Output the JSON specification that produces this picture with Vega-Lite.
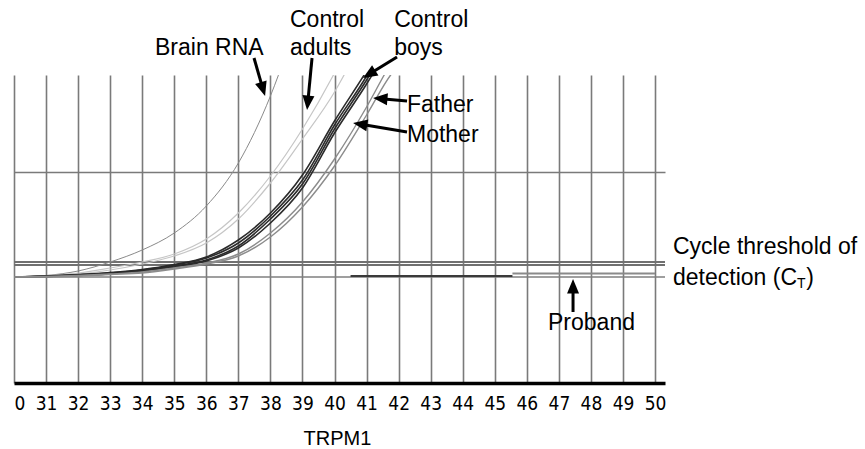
{
  "$schema": "https://vega.github.io/schema/vega-lite/v6.json",
  "autosize": {"type": "none"},
  "width": 651,
  "height": 308,
  "padding": {"left": 14, "top": 75, "right": 200, "bottom": 66},
  "background": "white",
  "config": {"view": {"stroke": null}, "font": "Liberation Sans"},
  "datasets": {
    "curves": [
      {"id": "brain", "group": "Brain RNA", "cycle": 30, "fluor": 106},
      {"id": "brain", "group": "Brain RNA", "cycle": 31, "fluor": 107.5},
      {"id": "brain", "group": "Brain RNA", "cycle": 32, "fluor": 112},
      {"id": "brain", "group": "Brain RNA", "cycle": 33, "fluor": 121},
      {"id": "brain", "group": "Brain RNA", "cycle": 34, "fluor": 133},
      {"id": "brain", "group": "Brain RNA", "cycle": 35, "fluor": 150},
      {"id": "brain", "group": "Brain RNA", "cycle": 36, "fluor": 177},
      {"id": "brain", "group": "Brain RNA", "cycle": 37, "fluor": 220},
      {"id": "brain", "group": "Brain RNA", "cycle": 38, "fluor": 287},
      {"id": "brain", "group": "Brain RNA", "cycle": 38.5, "fluor": 330},

      {"id": "adult1", "group": "Control adults", "cycle": 30, "fluor": 106},
      {"id": "adult1", "group": "Control adults", "cycle": 31, "fluor": 107.5},
      {"id": "adult1", "group": "Control adults", "cycle": 32, "fluor": 110},
      {"id": "adult1", "group": "Control adults", "cycle": 33, "fluor": 115},
      {"id": "adult1", "group": "Control adults", "cycle": 34, "fluor": 121},
      {"id": "adult1", "group": "Control adults", "cycle": 35, "fluor": 129},
      {"id": "adult1", "group": "Control adults", "cycle": 36, "fluor": 144},
      {"id": "adult1", "group": "Control adults", "cycle": 37, "fluor": 170},
      {"id": "adult1", "group": "Control adults", "cycle": 38, "fluor": 207},
      {"id": "adult1", "group": "Control adults", "cycle": 39, "fluor": 254},
      {"id": "adult1", "group": "Control adults", "cycle": 40, "fluor": 310},
      {"id": "adult1", "group": "Control adults", "cycle": 40.4, "fluor": 335},

      {"id": "adult2", "group": "Control adults", "cycle": 30, "fluor": 106},
      {"id": "adult2", "group": "Control adults", "cycle": 31, "fluor": 107},
      {"id": "adult2", "group": "Control adults", "cycle": 32, "fluor": 109},
      {"id": "adult2", "group": "Control adults", "cycle": 33, "fluor": 113},
      {"id": "adult2", "group": "Control adults", "cycle": 34, "fluor": 119},
      {"id": "adult2", "group": "Control adults", "cycle": 35, "fluor": 127},
      {"id": "adult2", "group": "Control adults", "cycle": 36, "fluor": 140},
      {"id": "adult2", "group": "Control adults", "cycle": 37, "fluor": 164},
      {"id": "adult2", "group": "Control adults", "cycle": 38, "fluor": 200},
      {"id": "adult2", "group": "Control adults", "cycle": 39, "fluor": 244},
      {"id": "adult2", "group": "Control adults", "cycle": 40, "fluor": 291},
      {"id": "adult2", "group": "Control adults", "cycle": 40.5, "fluor": 320},

      {"id": "boy1", "group": "Control boys", "cycle": 30, "fluor": 106},
      {"id": "boy1", "group": "Control boys", "cycle": 31, "fluor": 107},
      {"id": "boy1", "group": "Control boys", "cycle": 32, "fluor": 108.5},
      {"id": "boy1", "group": "Control boys", "cycle": 33, "fluor": 110.5},
      {"id": "boy1", "group": "Control boys", "cycle": 34, "fluor": 113.5},
      {"id": "boy1", "group": "Control boys", "cycle": 35, "fluor": 118.5},
      {"id": "boy1", "group": "Control boys", "cycle": 36, "fluor": 126},
      {"id": "boy1", "group": "Control boys", "cycle": 37, "fluor": 143},
      {"id": "boy1", "group": "Control boys", "cycle": 38, "fluor": 170},
      {"id": "boy1", "group": "Control boys", "cycle": 39, "fluor": 208},
      {"id": "boy1", "group": "Control boys", "cycle": 40, "fluor": 262},
      {"id": "boy1", "group": "Control boys", "cycle": 41, "fluor": 312},
      {"id": "boy1", "group": "Control boys", "cycle": 41.3, "fluor": 328},

      {"id": "boy2", "group": "Control boys", "cycle": 30, "fluor": 106},
      {"id": "boy2", "group": "Control boys", "cycle": 31, "fluor": 106.8},
      {"id": "boy2", "group": "Control boys", "cycle": 32, "fluor": 108.2},
      {"id": "boy2", "group": "Control boys", "cycle": 33, "fluor": 110},
      {"id": "boy2", "group": "Control boys", "cycle": 34, "fluor": 113},
      {"id": "boy2", "group": "Control boys", "cycle": 35, "fluor": 118},
      {"id": "boy2", "group": "Control boys", "cycle": 36, "fluor": 125},
      {"id": "boy2", "group": "Control boys", "cycle": 37, "fluor": 140},
      {"id": "boy2", "group": "Control boys", "cycle": 38, "fluor": 167},
      {"id": "boy2", "group": "Control boys", "cycle": 39, "fluor": 203},
      {"id": "boy2", "group": "Control boys", "cycle": 40, "fluor": 258},
      {"id": "boy2", "group": "Control boys", "cycle": 41, "fluor": 307},
      {"id": "boy2", "group": "Control boys", "cycle": 41.3, "fluor": 324},

      {"id": "boy3", "group": "Control boys", "cycle": 30, "fluor": 106},
      {"id": "boy3", "group": "Control boys", "cycle": 31, "fluor": 106.6},
      {"id": "boy3", "group": "Control boys", "cycle": 32, "fluor": 107.8},
      {"id": "boy3", "group": "Control boys", "cycle": 33, "fluor": 109.5},
      {"id": "boy3", "group": "Control boys", "cycle": 34, "fluor": 112.5},
      {"id": "boy3", "group": "Control boys", "cycle": 35, "fluor": 117},
      {"id": "boy3", "group": "Control boys", "cycle": 36, "fluor": 123},
      {"id": "boy3", "group": "Control boys", "cycle": 37, "fluor": 137},
      {"id": "boy3", "group": "Control boys", "cycle": 38, "fluor": 164},
      {"id": "boy3", "group": "Control boys", "cycle": 39, "fluor": 199},
      {"id": "boy3", "group": "Control boys", "cycle": 40, "fluor": 254},
      {"id": "boy3", "group": "Control boys", "cycle": 41, "fluor": 303},
      {"id": "boy3", "group": "Control boys", "cycle": 41.4, "fluor": 324},

      {"id": "boy4", "group": "Control boys", "cycle": 30, "fluor": 106},
      {"id": "boy4", "group": "Control boys", "cycle": 31, "fluor": 106.5},
      {"id": "boy4", "group": "Control boys", "cycle": 32, "fluor": 107.5},
      {"id": "boy4", "group": "Control boys", "cycle": 33, "fluor": 109},
      {"id": "boy4", "group": "Control boys", "cycle": 34, "fluor": 112},
      {"id": "boy4", "group": "Control boys", "cycle": 35, "fluor": 116},
      {"id": "boy4", "group": "Control boys", "cycle": 36, "fluor": 122},
      {"id": "boy4", "group": "Control boys", "cycle": 37, "fluor": 135},
      {"id": "boy4", "group": "Control boys", "cycle": 38, "fluor": 160},
      {"id": "boy4", "group": "Control boys", "cycle": 39, "fluor": 195},
      {"id": "boy4", "group": "Control boys", "cycle": 40, "fluor": 250},
      {"id": "boy4", "group": "Control boys", "cycle": 41, "fluor": 299},
      {"id": "boy4", "group": "Control boys", "cycle": 41.4, "fluor": 320},

      {"id": "father", "group": "Parents", "cycle": 30, "fluor": 106},
      {"id": "father", "group": "Parents", "cycle": 31, "fluor": 106.5},
      {"id": "father", "group": "Parents", "cycle": 32, "fluor": 107.5},
      {"id": "father", "group": "Parents", "cycle": 33, "fluor": 109},
      {"id": "father", "group": "Parents", "cycle": 34, "fluor": 111},
      {"id": "father", "group": "Parents", "cycle": 35, "fluor": 115},
      {"id": "father", "group": "Parents", "cycle": 36, "fluor": 120},
      {"id": "father", "group": "Parents", "cycle": 37, "fluor": 129},
      {"id": "father", "group": "Parents", "cycle": 38, "fluor": 150},
      {"id": "father", "group": "Parents", "cycle": 39, "fluor": 181},
      {"id": "father", "group": "Parents", "cycle": 40, "fluor": 224},
      {"id": "father", "group": "Parents", "cycle": 41, "fluor": 276},
      {"id": "father", "group": "Parents", "cycle": 41.55, "fluor": 308},
      {"id": "father", "group": "Parents", "cycle": 41.8, "fluor": 322},

      {"id": "mother", "group": "Parents", "cycle": 30, "fluor": 106},
      {"id": "mother", "group": "Parents", "cycle": 31, "fluor": 106},
      {"id": "mother", "group": "Parents", "cycle": 32, "fluor": 107},
      {"id": "mother", "group": "Parents", "cycle": 33, "fluor": 108.5},
      {"id": "mother", "group": "Parents", "cycle": 34, "fluor": 110},
      {"id": "mother", "group": "Parents", "cycle": 35, "fluor": 114},
      {"id": "mother", "group": "Parents", "cycle": 36, "fluor": 119},
      {"id": "mother", "group": "Parents", "cycle": 37, "fluor": 127},
      {"id": "mother", "group": "Parents", "cycle": 38, "fluor": 146},
      {"id": "mother", "group": "Parents", "cycle": 39, "fluor": 176},
      {"id": "mother", "group": "Parents", "cycle": 40, "fluor": 217},
      {"id": "mother", "group": "Parents", "cycle": 41, "fluor": 268},
      {"id": "mother", "group": "Parents", "cycle": 41.75, "fluor": 308},
      {"id": "mother", "group": "Parents", "cycle": 42, "fluor": 318},

      {"id": "proband1", "group": "Proband", "cycle": 40.5, "fluor": 107},
      {"id": "proband1", "group": "Proband", "cycle": 45.55, "fluor": 107},
      {"id": "proband2", "group": "Proband late", "cycle": 45.55, "fluor": 109.5},
      {"id": "proband2", "group": "Proband late", "cycle": 50, "fluor": 109.5}
    ],
    "levels": [
      {"name": "threshold upper", "fluor": 121},
      {"name": "threshold lower", "fluor": 118}
    ],
    "baseline": [{"name": "baseline", "fluor": 106}],
    "labels": [
      {"text": "Brain RNA", "cycle": 34.40, "fluor": 328},
      {"text": "Control", "cycle": 38.61, "fluor": 356},
      {"text": "adults", "cycle": 38.61, "fluor": 328},
      {"text": "Control", "cycle": 41.86, "fluor": 356},
      {"text": "boys", "cycle": 41.86, "fluor": 328},
      {"text": "Father", "cycle": 42.26, "fluor": 271},
      {"text": "Mother", "cycle": 42.26, "fluor": 241},
      {"text": "Cycle threshold of", "cycle": 50.56, "fluor": 129},
      {"text": "detection (C", "cycle": 50.56, "fluor": 98},
      {"text": ")", "cycle": 54.72, "fluor": 98},
      {"text": "Proband", "cycle": 46.66, "fluor": 53}
    ],
    "subscripts": [
      {"text": "T", "cycle": 54.43, "fluor": 95}
    ],
    "arrows": [
      {"target": "Brain RNA", "cycle": 37.488, "fluor": 325, "cycle2": 37.760, "fluor2": 294.7, "angle": 163},
      {"target": "Control adults", "cycle": 39.298, "fluor": 325, "cycle2": 39.167, "fluor2": 281, "angle": 185.5},
      {"target": "Control boys", "cycle": 41.950, "fluor": 326, "cycle2": 41.101, "fluor2": 309.2, "angle": 238},
      {"target": "Father", "cycle": 42.262, "fluor": 282, "cycle2": 41.451, "fluor2": 284.3, "angle": 275},
      {"target": "Mother", "cycle": 42.262, "fluor": 251, "cycle2": 40.824, "fluor2": 258.7, "angle": 279.5},
      {"target": "Proband", "cycle": 47.441, "fluor": 71, "cycle2": 47.441, "fluor2": 96, "angle": 0}
    ]
  },
  "encoding": {
    "x": {
      "field": "cycle", "type": "quantitative",
      "scale": {"domain": [30, 50.31], "nice": false, "zero": false},
      "axis": {
        "title": "TRPM1",
        "titleFont": "Liberation Sans", "titleFontSize": 20, "titleFontWeight": "normal", "titleColor": "black",
        "titleBaseline": "alphabetic", "titleY": 61, "titleX": 323,
        "values": [30,31,32,33,34,35,36,37,38,39,40,41,42,43,44,45,46,47,48,49,50],
        "labelExpr": "datum.value == 30 ? '0' : datum.label",
        "labelFlush": 1,
        "labelFont": "Liberation Sans Narrow, DejaVu Sans Condensed, sans-serif", "labelFontSize": 19, "labelColor": "black",
        "labelPadding": 11,
        "ticks": false,
        "domainColor": "black", "domainWidth": 3.5,
        "grid": true, "gridColor": "#7a7a7a", "gridWidth": 1.6
      }
    },
    "y": {
      "field": "fluor", "type": "quantitative",
      "scale": {"domain": [0, 308], "nice": false, "zero": false},
      "axis": {
        "title": null, "values": [211.5], "labels": false, "ticks": false, "domain": false,
        "grid": true, "gridColor": "#7a7a7a", "gridWidth": 1.6
      }
    }
  },
  "layer": [
    {
      "data": {"name": "baseline"},
      "mark": {"type": "rule", "color": "#7f7f7f", "strokeWidth": 1.5},
      "encoding": {"x": null, "y": {"field": "fluor", "type": "quantitative"}}
    },
    {
      "data": {"name": "levels"},
      "mark": {"type": "rule", "color": "#707070", "strokeWidth": 1.8},
      "encoding": {"x": null, "y": {"field": "fluor", "type": "quantitative"}}
    },
    {
      "data": {"name": "curves"},
      "mark": {"type": "line", "clip": true, "interpolate": "monotone"},
      "encoding": {
        "detail": {"field": "id"},
        "color": {
          "field": "group", "type": "nominal", "legend": null,
          "scale": {
            "domain": ["Brain RNA", "Control adults", "Parents", "Control boys", "Proband", "Proband late"],
            "range": ["#8a8a8a", "#c6c6c6", "#8c8c8c", "#2b2b2b", "#3a3a3a", "#8a8a8a"]
          }
        },
        "strokeWidth": {
          "field": "group", "type": "nominal", "legend": null,
          "scale": {
            "domain": ["Brain RNA", "Control adults", "Parents", "Control boys", "Proband", "Proband late"],
            "range": [1, 2, 1.6, 1.1, 1.8, 1.3]
          }
        },
        "order": {"field": "cycle", "type": "quantitative"}
      }
    },
    {
      "data": {"name": "arrows"},
      "mark": {"type": "rule", "color": "black", "strokeWidth": 3},
      "encoding": {
        "x2": {"field": "cycle2"},
        "y2": {"field": "fluor2"}
      }
    },
    {
      "data": {"name": "arrows"},
      "mark": {"type": "point", "shape": "M0,-1L0.75,0.8L-0.75,0.8Z", "filled": true, "color": "black", "size": 256, "opacity": 1},
      "encoding": {
        "x": {"field": "cycle2", "type": "quantitative"},
        "y": {"field": "fluor2", "type": "quantitative"},
        "angle": {"field": "angle", "type": "quantitative", "scale": null}
      }
    },
    {
      "data": {"name": "labels"},
      "mark": {"type": "text", "align": "left", "baseline": "alphabetic", "font": "Liberation Sans", "fontSize": 23, "color": "black"},
      "encoding": {"text": {"field": "text"}}
    },
    {
      "data": {"name": "subscripts"},
      "mark": {"type": "text", "align": "left", "baseline": "alphabetic", "font": "Liberation Sans", "fontSize": 14, "color": "black"},
      "encoding": {"text": {"field": "text"}}
    }
  ]
}
